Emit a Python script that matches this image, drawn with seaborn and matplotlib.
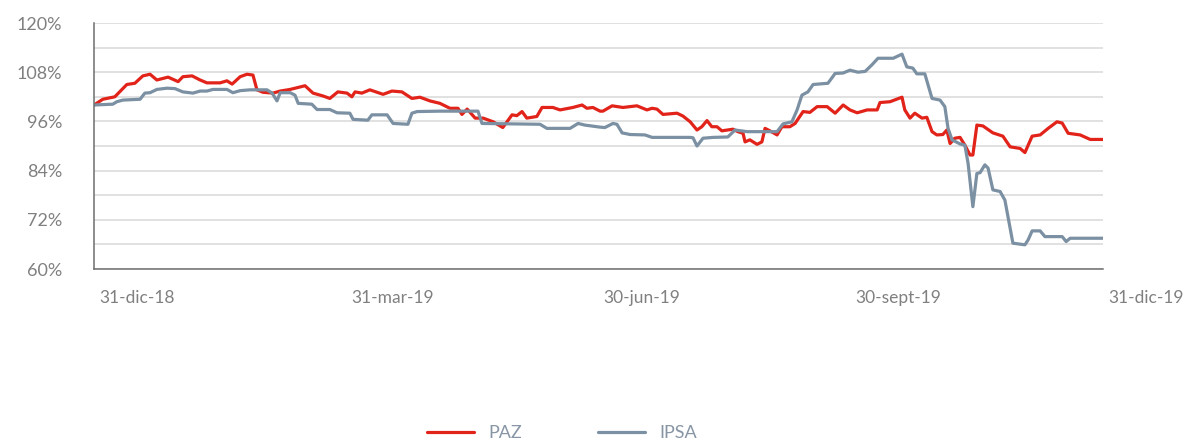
import matplotlib
matplotlib.use("Agg")
import matplotlib.pyplot as plt
import matplotlib.transforms as mtransforms
from matplotlib.ticker import MultipleLocator, FixedLocator
from matplotlib.lines import Line2D
import numpy as np
import pandas as pd
import seaborn as sns

# ---------------- data (session index in year, value in %) ----------------
paz_x = [0, 2.2, 5.2, 8.2, 10.2, 12.2, 14.0, 15.7, 18.5, 21.0, 22.2, 24.5, 26.5, 28.2,
         31.5, 33.2, 34.5, 36.5, 38.2, 39.7, 40.7, 42.2, 44.7, 46.5, 49.0, 52.7, 54.7,
         57.2, 58.9, 60.9, 63.2, 64.4, 65.2, 66.9, 68.9, 72.2, 74.4, 76.9, 79.4, 81.4,
         83.9, 86.4, 88.9, 90.9, 91.9, 93.2, 95.2, 97.2, 99.7, 102.1, 104.4, 105.6,
         106.9, 108.1, 110.6, 111.9, 114.6, 116.4, 119.6, 121.9, 123.1, 124.6, 126.4,
         127.1, 129.4, 132.1, 135.6, 138.1, 139.4, 140.6, 142.1, 145.6, 147.1, 148.9,
         150.6, 151.8, 153.1, 154.3, 155.6, 156.8, 159.6, 160.8, 162.1, 162.6, 163.8,
         165.6, 166.8, 167.6, 168.8, 170.6, 171.8, 173.8, 175.1, 177.1, 178.8, 180.6,
         183.1, 185.1, 187.1, 188.8, 190.6, 193.1, 195.6, 196.3, 198.8, 201.8, 202.5,
         203.8, 205.0, 206.8, 208.0, 209.3, 210.5, 212.0, 213.0, 213.8, 215.0, 216.3,
         217.5, 218.8, 219.5, 220.5, 222.0, 224.5, 227.0, 228.8, 231.3, 232.5, 234.3,
         236.3, 238.3, 240.5, 241.8, 243.3, 246.3, 248.8, 252.0]
paz_v = [100.0, 101.4, 102.0, 105.0, 105.3, 107.1, 107.5, 106.1, 106.8, 105.7, 106.9,
         107.1, 106.1, 105.4, 105.4, 105.9, 105.1, 106.9, 107.5, 107.3, 103.7, 103.1,
         102.9, 103.4, 103.8, 104.7, 102.9, 102.2, 101.6, 103.2, 102.9, 102.0, 103.2,
         102.9, 103.7, 102.6, 103.4, 103.2, 101.6, 101.9, 101.0, 100.4, 99.2, 99.2,
         97.7, 99.0, 96.8, 96.8, 95.9, 94.5, 97.6, 97.4, 98.4, 96.8, 97.2, 99.4, 99.4,
         98.8, 99.4, 100.0, 99.2, 99.4, 98.5, 98.5, 99.8, 99.4, 99.8, 98.8, 99.2, 99.0,
         97.7, 98.0, 97.3, 95.9, 93.9, 94.7, 96.2, 94.7, 94.7, 93.7, 94.1, 93.5, 93.1,
         91.0, 91.5, 90.4, 91.0, 94.3, 93.7, 92.7, 94.7, 94.7, 95.5, 98.4, 98.2, 99.6,
         99.6, 98.0, 100.0, 98.8, 98.1, 98.8, 98.8, 100.6, 100.8, 101.9, 98.8, 96.8,
         98.0, 96.8, 97.0, 93.5, 92.7, 92.8, 93.9, 90.6, 91.9, 92.1, 90.2, 87.8, 87.8,
         95.1, 94.9, 93.2, 92.4, 89.8, 89.4, 88.4, 92.4, 92.7, 94.3, 95.9, 95.6, 93.1,
         92.7, 91.6, 91.6]

ipsa_x = [0, 4.7, 5.7, 7.2, 11.5, 12.7, 14.0, 15.7, 18.2, 20.2, 22.2, 24.7, 26.5, 28.2,
          29.7, 33.2, 34.7, 36.5, 39.0, 43.2, 44.5, 45.7, 46.5, 49.0, 50.2, 51.0, 54.4,
          55.7, 58.9, 60.7, 63.9, 64.7, 68.4, 69.4, 73.2, 74.7, 78.4, 79.4, 80.7, 86.4,
          95.9, 96.9, 111.4, 113.1, 118.9, 120.9, 122.6, 126.4, 127.6, 129.6, 130.6,
          131.9, 133.9, 137.6, 139.4, 148.9, 149.6, 150.6, 152.1, 154.6, 158.3, 160.1,
          163.1, 170.6, 172.1, 174.3, 175.6, 176.8, 178.3, 179.6, 183.3, 185.1, 187.1,
          188.8, 190.8, 192.6, 194.3, 195.8, 199.6, 201.8, 203.0, 204.5, 205.5, 207.5,
          209.3, 211.3, 212.5, 213.3, 214.3, 216.3, 217.5, 218.3, 219.5, 220.5, 221.3,
          222.5, 223.3, 224.5, 226.3, 227.5, 229.5, 232.5, 233.3, 234.3, 236.3, 237.5,
          241.8, 242.8, 243.8, 252.0]
ipsa_v = [100.0, 100.2, 100.8, 101.2, 101.4, 102.9, 103.0, 103.8, 104.1, 104.0, 103.2,
          102.9, 103.4, 103.4, 103.8, 103.8, 103.0, 103.5, 103.7, 103.7, 102.9, 101.0,
          103.0, 103.0, 102.4, 100.4, 100.2, 98.9, 98.9, 98.1, 98.0, 96.5, 96.3, 97.6,
          97.6, 95.5, 95.3, 98.0, 98.4, 98.5, 98.5, 95.5, 95.3, 94.3, 94.3, 95.5, 95.1,
          94.6, 94.5, 95.5, 95.3, 93.2, 92.8, 92.7, 92.1, 92.1, 92.0, 90.0, 91.9, 92.1,
          92.2, 93.9, 93.5, 93.5, 95.4, 95.9, 98.8, 102.4, 103.2, 105.0, 105.3, 107.7,
          107.8, 108.5, 108.0, 108.2, 109.8, 111.4, 111.4, 112.4, 109.3, 109.0, 107.6,
          107.6, 101.6, 101.2, 99.6, 94.3, 91.5, 90.5, 90.2, 85.8, 75.2, 83.3, 83.5,
          85.4, 84.6, 79.3, 78.9, 76.8, 66.3, 65.9, 67.1, 69.3, 69.3, 67.9, 67.9, 66.7,
          67.5, 67.5]

series_names = ["PAZ", "IPSA"]
tick_pos = [0, 63, 126, 189, 252]
tick_labels = ["31-dic-18", "31-mar-19", "30-jun-19", "30-sept-19", "31-dic-19"]
y_major = [60, 72, 84, 96, 108, 120]

RED = "#e2231a"
BLUE = "#7b90a2"
TXT = "#808080"
FS = 12.5

df = pd.concat([
    pd.DataFrame({"x": paz_x, "v": paz_v, "serie": series_names[0]}),
    pd.DataFrame({"x": ipsa_x, "v": ipsa_v, "serie": series_names[1]}),
])

sns.set_style("white")
plt.rcParams["font.family"] = ["Lato", "DejaVu Sans"]

fig = plt.figure(figsize=(11.87, 4.43), dpi=100)
ax = fig.add_axes([94 / 1187, 1 - 269 / 443, (1103 - 94) / 1187, (269 - 23) / 443])

sns.lineplot(data=df, x="x", y="v", hue="serie", palette=[RED, BLUE],
             estimator=None, sort=False, linewidth=2.3, ax=ax, legend=False)

ax.set_xlim(0, 252)
ax.set_ylim(60, 120)
ax.set_xlabel("")
ax.set_ylabel("")

ax.yaxis.set_major_locator(FixedLocator(y_major))
ax.yaxis.set_minor_locator(MultipleLocator(6))
ax.set_yticklabels([f"{v}%" for v in y_major])
ax.set_xticks(tick_pos)
ax.set_xticklabels(tick_labels)

ax.grid(True, axis="y", which="both", color="#dcdcdc", linewidth=1.2)
ax.set_axisbelow(True)
for s in ["top", "right"]:
    ax.spines[s].set_visible(False)
for s in ["left", "bottom"]:
    ax.spines[s].set_color("#6e6e6e")
    ax.spines[s].set_linewidth(1.1)

ax.tick_params(axis="y", which="major", length=9, width=1.1, color="#555555",
               pad=14, labelsize=FS + 0.5, labelcolor=TXT)
ax.tick_params(axis="y", which="minor", length=0)
ax.tick_params(axis="x", which="major", length=9, width=1.1, color="#555555",
               pad=6, labelsize=FS, labelcolor=TXT)

offset = mtransforms.ScaledTranslation(5 / 100, 0, fig.dpi_scale_trans)
for lbl in ax.get_xticklabels():
    lbl.set_horizontalalignment("left")
    lbl.set_transform(lbl.get_transform() + offset)

handles = [Line2D([], [], color=RED, linewidth=2.3),
           Line2D([], [], color=BLUE, linewidth=2.3)]
leg = fig.legend(handles, series_names, loc="center",
                 bbox_to_anchor=(562 / 1187, 1 - 433 / 443), ncol=2, frameon=False,
                 fontsize=FS + 0.5, handlelength=2.6, handletextpad=0.8,
                 columnspacing=4.2, borderpad=0)
for t in leg.get_texts():
    t.set_color("#8795a5")

fig.savefig("out.png", dpi=100)
